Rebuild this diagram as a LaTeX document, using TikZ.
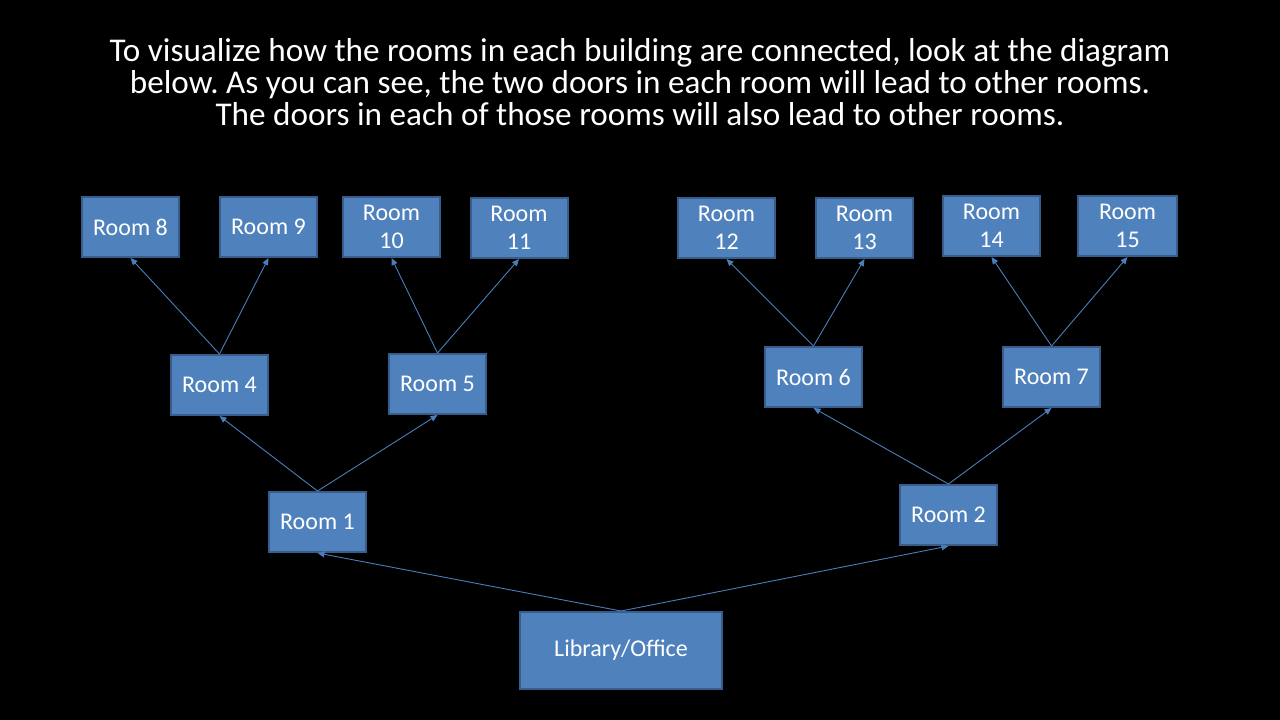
\documentclass[tikz,border=0pt]{standalone}
\usepackage{fontspec}
\setmainfont{Carlito}
\usetikzlibrary{arrows.meta}
\definecolor{boxfill}{HTML}{4F81BD}
\definecolor{boxline}{HTML}{385D8A}
\definecolor{arrowc}{HTML}{4A7EBB}
\tikzset{
  room/.style={draw=boxline, line width=2pt, fill=boxfill, text=white,
    minimum width=97pt, minimum height=60pt, inner sep=0pt, align=center,
    font=\fontsize{24}{28}\selectfont},
  conn/.style={draw=arrowc, line width=0.9pt, -{Triangle[length=7pt,width=6pt]}},
}
\begin{document}
\frenchspacing
\begin{tikzpicture}[x=1pt,y=-1pt]
\fill[black] (0,0) rectangle (1280,720);
\useasboundingbox (0,0) rectangle (1280,720);
\node[text=white, align=center, font=\fontsize{33.2}{32}\selectfont] (title) at (640,82)
  {To visualize how the rooms in each building are connected, look at the diagram\\
   below. As you can see, the two doors in each room will lead to other rooms.\\
   The doors in each of those rooms will also lead to other rooms.};
\node[room] (r8) at (130.5,227) {Room 8};
\node[room] (r9) at (268.5,227) {Room 9};
\node[room] (r10) at (391.5,227) {Room\\10};
\node[room] (r11) at (519,228) {Room\\11};
\node[room] (r12) at (726.5,228) {Room\\12};
\node[room] (r13) at (864.5,228) {Room\\13};
\node[room] (r14) at (991.5,226) {Room\\14};
\node[room, minimum width=99pt] (r15) at (1127.5,226) {Room\\15};
\node[room] (r4) at (219.5,385) {Room 4};
\node[room] (r5) at (437.5,384) {Room 5};
\node[room] (r6) at (813.5,377) {Room 6};
\node[room] (r7) at (1051.5,377) {Room 7};
\node[room] (r1) at (317.5,522) {Room 1};
\node[room] (r2) at (948.5,515) {Room 2};
\node[room, minimum width=202pt, minimum height=77pt] (lib) at (621,650.5) {Library/Office};
\draw[conn] (lib.north) -- (r1.south);
\draw[conn] (lib.north) -- (r2.south);
\draw[conn] (r1.north) -- (r4.south);
\draw[conn] (r1.north) -- (r5.south);
\draw[conn] (r2.north) -- (r6.south);
\draw[conn] (r2.north) -- (r7.south);
\draw[conn] (r4.north) -- (r8.south);
\draw[conn] (r4.north) -- (r9.south);
\draw[conn] (r5.north) -- (r10.south);
\draw[conn] (r5.north) -- (r11.south);
\draw[conn] (r6.north) -- (r12.south);
\draw[conn] (r6.north) -- (r13.south);
\draw[conn] (r7.north) -- (r14.south);
\draw[conn] (r7.north) -- (r15.south);
\end{tikzpicture}
\end{document}
